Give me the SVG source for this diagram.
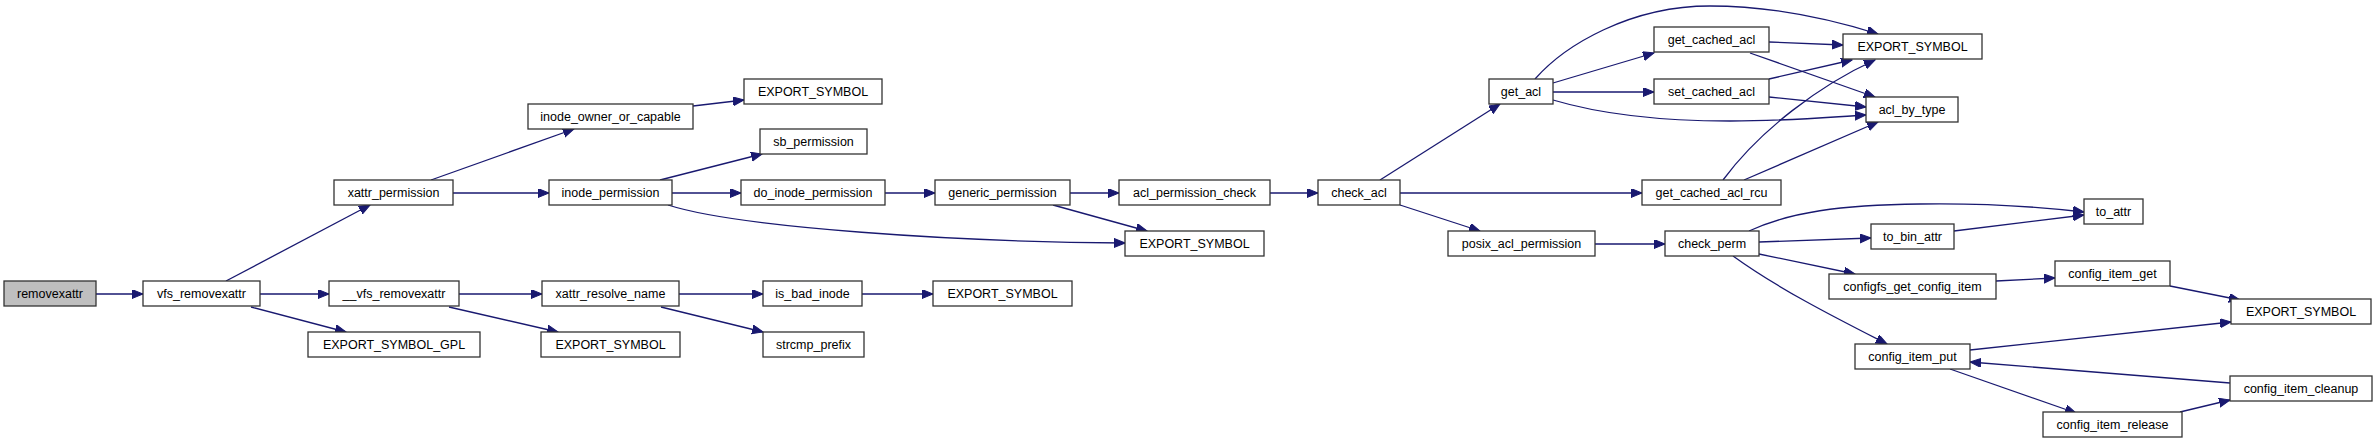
<svg xmlns="http://www.w3.org/2000/svg" width="2377" height="445" viewBox="0 0 2377 445">
<style>
.n rect{fill:#fff;stroke:#333;stroke-width:1.3}
.n text{font-family:"Liberation Sans",Arial,sans-serif;font-size:12.5px;text-anchor:middle;fill:#000}
.e path{fill:none;stroke:#191970;stroke-width:1.3;marker-end:url(#a)}
</style>
<defs>
<marker id="a" markerUnits="userSpaceOnUse" markerWidth="12" markerHeight="10" refX="11" refY="4.5" orient="auto">
<path d="M0,0 L11,4.5 L0,9 z" fill="#191970" stroke="#191970" stroke-width="1"/>
</marker>
</defs>
<rect width="2377" height="445" fill="#fff"/>
<g class="e" id="edges">
<path d="M96,294 H143"/>
<path d="M226,281 L370,205"/>
<path d="M260,294 H329"/>
<path d="M251,307 L346,332"/>
<path d="M431,180 L574,129"/>
<path d="M453,193 H549"/>
<path d="M459,294 H542"/>
<path d="M449,307 L558,332"/>
<path d="M693,106 L744,100"/>
<path d="M660,180 L762,154"/>
<path d="M672,193 H741"/>
<path d="M668,205 C740,228 960,242 1125,243"/>
<path d="M885,193 H935"/>
<path d="M1070,193 H1119"/>
<path d="M1053,205 L1147,231"/>
<path d="M1270,193 H1318"/>
<path d="M679,294 H763"/>
<path d="M661,307 L763,332"/>
<path d="M862,294 H933"/>
<path d="M1380,180 L1500,104"/>
<path d="M1400,193 H1642"/>
<path d="M1400,205 L1480,231"/>
<path d="M1595,244 H1665"/>
<path d="M1535,79 C1565,45 1630,6 1710,6 C1780,6 1840,22 1878,34"/>
<path d="M1553,83 L1654,53"/>
<path d="M1553,92 H1654"/>
<path d="M1553,100 C1600,114 1660,121 1730,121 C1790,121 1830,117 1866,115"/>
<path d="M1769,42 L1843,45"/>
<path d="M1750,53 L1875,97"/>
<path d="M1769,79 L1852,60"/>
<path d="M1769,97 L1866,107"/>
<path d="M1723,180 C1760,130 1820,85 1875,60"/>
<path d="M1744,180 L1878,122"/>
<path d="M1749,231 C1790,212 1840,205 1920,204 C1990,203 2050,208 2084,212"/>
<path d="M1759,242 L1871,238"/>
<path d="M1954,231 L2084,215"/>
<path d="M1759,254 L1855,274"/>
<path d="M1733,256 C1780,290 1840,320 1887,344"/>
<path d="M1996,281 L2055,278"/>
<path d="M2170,286 L2240,300"/>
<path d="M1970,350 L2231,322"/>
<path d="M1950,369 L2076,413"/>
<path d="M2180,412 L2230,400"/>
<path d="M2230,383 L1970,362"/>
</g>
<g class="n" id="removexattr"><rect x="4" y="281" width="92" height="25" style="fill:#bfbfbf"/><text x="50" y="298">removexattr</text></g>
<g class="n" id="vfs_removexattr"><rect x="143" y="281" width="117" height="25"/><text x="201.5" y="298">vfs_removexattr</text></g>
<g class="n" id="xattr_permission"><rect x="334" y="180" width="119" height="25"/><text x="393.5" y="197">xattr_permission</text></g>
<g class="n" id="__vfs_removexattr"><rect x="329" y="281" width="130" height="25"/><text x="394" y="298">__vfs_removexattr</text></g>
<g class="n" id="EXPORT_SYMBOL_GPL"><rect x="308" y="332" width="172" height="25"/><text x="394" y="349">EXPORT_SYMBOL_GPL</text></g>
<g class="n" id="inode_owner_or_capable"><rect x="528" y="104" width="165" height="25"/><text x="610.5" y="121">inode_owner_or_capable</text></g>
<g class="n" id="inode_permission"><rect x="549" y="180" width="123" height="25"/><text x="610.5" y="197">inode_permission</text></g>
<g class="n" id="xattr_resolve_name"><rect x="542" y="281" width="137" height="25"/><text x="610.5" y="298">xattr_resolve_name</text></g>
<g class="n" id="EXPORT_SYMBOL_b"><rect x="541" y="332" width="139" height="25"/><text x="610.5" y="349">EXPORT_SYMBOL</text></g>
<g class="n" id="EXPORT_SYMBOL_a"><rect x="744" y="79" width="138" height="25"/><text x="813" y="96">EXPORT_SYMBOL</text></g>
<g class="n" id="sb_permission"><rect x="760" y="129" width="107" height="25"/><text x="813.5" y="146">sb_permission</text></g>
<g class="n" id="do_inode_permission"><rect x="741" y="180" width="144" height="25"/><text x="813" y="197">do_inode_permission</text></g>
<g class="n" id="is_bad_inode"><rect x="763" y="281" width="99" height="25"/><text x="812.5" y="298">is_bad_inode</text></g>
<g class="n" id="strcmp_prefix"><rect x="763" y="332" width="101" height="25"/><text x="813.5" y="349">strcmp_prefix</text></g>
<g class="n" id="generic_permission"><rect x="935" y="180" width="135" height="25"/><text x="1002.5" y="197">generic_permission</text></g>
<g class="n" id="EXPORT_SYMBOL_c"><rect x="933" y="281" width="139" height="25"/><text x="1002.5" y="298">EXPORT_SYMBOL</text></g>
<g class="n" id="acl_permission_check"><rect x="1119" y="180" width="151" height="25"/><text x="1194.5" y="197">acl_permission_check</text></g>
<g class="n" id="EXPORT_SYMBOL_d"><rect x="1125" y="231" width="139" height="25"/><text x="1194.5" y="248">EXPORT_SYMBOL</text></g>
<g class="n" id="check_acl"><rect x="1318" y="180" width="82" height="25"/><text x="1359" y="197">check_acl</text></g>
<g class="n" id="get_acl"><rect x="1489" y="79" width="64" height="25"/><text x="1521" y="96">get_acl</text></g>
<g class="n" id="get_cached_acl_rcu"><rect x="1642" y="180" width="139" height="25"/><text x="1711.5" y="197">get_cached_acl_rcu</text></g>
<g class="n" id="posix_acl_permission"><rect x="1448" y="231" width="147" height="25"/><text x="1521.5" y="248">posix_acl_permission</text></g>
<g class="n" id="get_cached_acl"><rect x="1654" y="27" width="115" height="25"/><text x="1711.5" y="44">get_cached_acl</text></g>
<g class="n" id="set_cached_acl"><rect x="1654" y="79" width="115" height="25"/><text x="1711.5" y="96">set_cached_acl</text></g>
<g class="n" id="EXPORT_SYMBOL_e"><rect x="1843" y="34" width="139" height="25"/><text x="1912.5" y="51">EXPORT_SYMBOL</text></g>
<g class="n" id="acl_by_type"><rect x="1866" y="97" width="92" height="25"/><text x="1912" y="114">acl_by_type</text></g>
<g class="n" id="check_perm"><rect x="1665" y="231" width="94" height="25"/><text x="1712" y="248">check_perm</text></g>
<g class="n" id="to_attr"><rect x="2084" y="199" width="59" height="25"/><text x="2113.5" y="216">to_attr</text></g>
<g class="n" id="to_bin_attr"><rect x="1871" y="224" width="83" height="25"/><text x="1912.5" y="241">to_bin_attr</text></g>
<g class="n" id="configfs_get_config_item"><rect x="1829" y="274" width="167" height="25"/><text x="1912.5" y="291">configfs_get_config_item</text></g>
<g class="n" id="config_item_get"><rect x="2055" y="261" width="115" height="25"/><text x="2112.5" y="278">config_item_get</text></g>
<g class="n" id="config_item_put"><rect x="1855" y="344" width="115" height="25"/><text x="1912.5" y="361">config_item_put</text></g>
<g class="n" id="EXPORT_SYMBOL_f"><rect x="2231" y="299" width="140" height="25"/><text x="2301" y="316">EXPORT_SYMBOL</text></g>
<g class="n" id="config_item_release"><rect x="2043" y="412" width="139" height="25"/><text x="2112.5" y="429">config_item_release</text></g>
<g class="n" id="config_item_cleanup"><rect x="2230" y="376" width="142" height="25"/><text x="2301" y="393">config_item_cleanup</text></g>
</svg>
